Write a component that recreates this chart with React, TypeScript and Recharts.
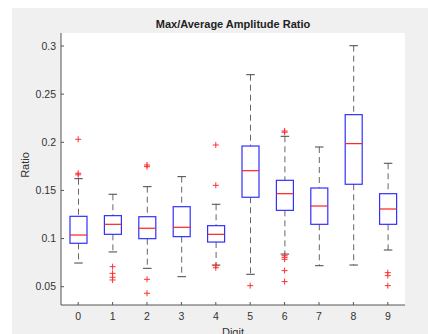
import {
  Bar,
  CartesianGrid,
  ComposedChart,
  Scatter,
  XAxis,
  YAxis,
} from "recharts";

// boxplot statistics per digit
const digits = [0, 1, 2, 3, 4, 5, 6, 7, 8, 9];
const lowerWhisker = [0.0746, 0.0861, 0.0691, 0.0604, 0.0725, 0.0629, 0.0839, 0.0718, 0.0725, 0.0881];
const lowerQuartile = [0.0951, 0.1044, 0.0999, 0.102, 0.0964, 0.1429, 0.1293, 0.1148, 0.1564, 0.1148];
const medians = [0.1037, 0.1148, 0.1107, 0.1117, 0.1044, 0.1705, 0.1466, 0.1338, 0.1986, 0.1307];
const upperQuartile = [0.1231, 0.1238, 0.1227, 0.1331, 0.1134, 0.1961, 0.1605, 0.1525, 0.2287, 0.1466];
const upperWhisker = [0.1622, 0.146, 0.1539, 0.1643, 0.1356, 0.2702, 0.2062, 0.1951, 0.3003, 0.1782];
const outliers = [
  [0.2031, 0.1678, 0.1662],
  [0.0708, 0.0639, 0.0598, 0.057],
  [0.1764, 0.1747, 0.0577, 0.0432],
  [],
  [0.1972, 0.1553, 0.0718, 0.0697],
  [0.0511],
  [0.2117, 0.2104, 0.0822, 0.0805, 0.0785, 0.0667, 0.0553],
  [],
  [],
  [0.0646, 0.0615, 0.0511],
];

const yTicks = [0.05, 0.1, 0.15, 0.2, 0.25, 0.3];
const yDomain = [0.031, 0.3135];
const xDomain = [-0.5, 9.5];

const boxes = digits.map((digit, i) => ({
  digit,
  lo: lowerWhisker[i],
  q1: lowerQuartile[i],
  med: medians[i],
  q3: upperQuartile[i],
  hi: upperWhisker[i],
}));

const outlierPoints = digits.flatMap((digit, i) =>
  outliers[i].map((value) => ({ digit, value }))
);

const axisColor = "#555";
const tickStyle = { fontSize: 10.5, fill: "#333" };

// the bar spans lo..hi, so every other statistic is placed inside it linearly
const BoxShape = (props: any) => {
  const { x, y, width, height, payload } = props;
  const { lo, q1, med, q3, hi } = payload;
  const toY = (v: number) => y + (height * (hi - v)) / (hi - lo);
  const cx = x + width / 2;
  const cap = width / 2;
  return (
    <g>
      <line x1={cx} x2={cx} y1={toY(hi)} y2={toY(q3)} stroke="#666" strokeDasharray="6 4" />
      <line x1={cx} x2={cx} y1={toY(q1)} y2={toY(lo)} stroke="#666" strokeDasharray="6 4" />
      <line x1={cx - cap / 2} x2={cx + cap / 2} y1={toY(hi)} y2={toY(hi)} stroke="#444" />
      <line x1={cx - cap / 2} x2={cx + cap / 2} y1={toY(lo)} y2={toY(lo)} stroke="#444" />
      <rect
        x={x}
        y={toY(q3)}
        width={width}
        height={toY(q1) - toY(q3)}
        fill="none"
        stroke="#3030ff"
        strokeWidth={1.2}
      />
      <line x1={x} x2={x + width} y1={toY(med)} y2={toY(med)} stroke="#ff2020" strokeWidth={1.2} />
    </g>
  );
};

const PlusShape = (props: any) => {
  const { cx, cy } = props;
  return (
    <g stroke="#ff3030">
      <line x1={cx - 3} x2={cx + 3} y1={cy} y2={cy} />
      <line x1={cx} x2={cx} y1={cy - 3} y2={cy + 3} />
    </g>
  );
};

const App = () => {
  return (
    <div
      style={{
        position: "fixed",
        left: 12,
        top: 8,
        width: 416,
        height: 326,
        background: "#f0f0f0",
        overflow: "hidden",
        fontFamily: "'Liberation Sans', Arial, sans-serif",
        color: "#222",
      }}
    >
      <div
        style={{
          position: "absolute",
          left: 49,
          width: 344,
          top: 9.6,
          textAlign: "center",
          fontSize: 11,
          fontWeight: "bold",
          lineHeight: "13px",
        }}
      >
        Max/Average Amplitude Ratio
      </div>
      <div
        style={{
          position: "absolute",
          left: 13,
          top: 157,
          transform: "translate(-50%, -50%) rotate(-90deg)",
          fontSize: 11,
          lineHeight: "13px",
          whiteSpace: "nowrap",
          color: "#333",
        }}
      >
        Ratio
      </div>
      <div
        style={{
          position: "absolute",
          left: 49,
          width: 344,
          top: 317.6,
          textAlign: "center",
          fontSize: 11,
          lineHeight: "13px",
          color: "#333",
        }}
      >
        Digit
      </div>
      <ComposedChart
        width={416}
        height={326}
        data={boxes}
        margin={{ top: 25, right: 23, bottom: 0, left: 0 }}
        style={{ position: "absolute", left: 0, top: 0 }}
      >
        <CartesianGrid horizontal={false} vertical={false} fill="#fff" stroke="none" />
        <XAxis
          dataKey="digit"
          type="number"
          domain={xDomain}
          ticks={digits}
          interval={0}
          allowDataOverflow
          height={29}
          tickSize={-3}
          tickMargin={11}
          tick={tickStyle}
          stroke={axisColor}
        />
        <XAxis
          xAxisId="top"
          orientation="top"
          type="number"
          domain={xDomain}
          ticks={digits}
          interval={0}
          allowDataOverflow
          height={0}
          tickSize={-3}
          tick={false}
          stroke={axisColor}
        />
        <YAxis
          type="number"
          domain={yDomain}
          ticks={yTicks}
          interval={0}
          allowDataOverflow
          width={49}
          tickSize={-3}
          tickMargin={8}
          tick={tickStyle}
          stroke={axisColor}
        />
        <YAxis
          yAxisId="right"
          orientation="right"
          type="number"
          domain={yDomain}
          ticks={yTicks}
          interval={0}
          allowDataOverflow
          width={0}
          tickSize={-3}
          tick={false}
          stroke={axisColor}
        />
        <Bar
          dataKey={(d: any) => [d.lo, d.hi]}
          barSize={17}
          shape={BoxShape}
          isAnimationActive={false}
        />
        <Scatter
          data={outlierPoints}
          dataKey="value"
          shape={PlusShape}
          isAnimationActive={false}
        />
      </ComposedChart>
    </div>
  );
};

export default App;
